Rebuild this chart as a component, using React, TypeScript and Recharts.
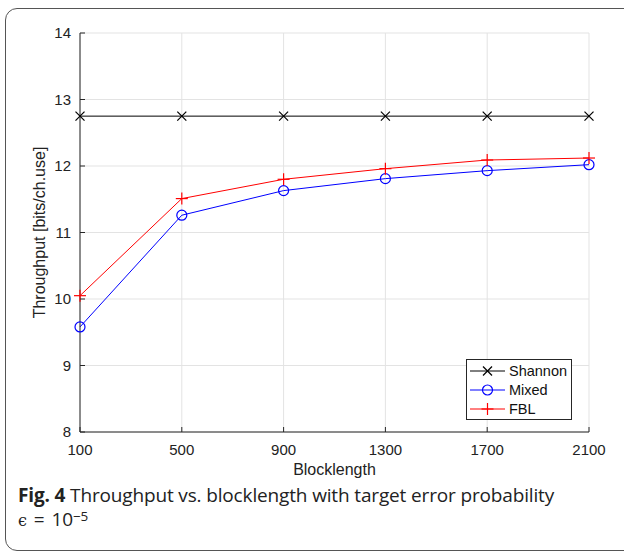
import { LineChart, Line, XAxis, YAxis, CartesianGrid } from "recharts";

const blocklengths = [100, 500, 900, 1300, 1700, 2100];
const shannon = [12.75, 12.75, 12.75, 12.75, 12.75, 12.75];
const mixed = [9.58, 11.26, 11.63, 11.81, 11.93, 12.02];
const fbl = [10.05, 11.51, 11.8, 11.96, 12.09, 12.12];
const xTicks = [100, 500, 900, 1300, 1700, 2100];
const yTicks = [8, 9, 10, 11, 12, 13, 14];

const data = blocklengths.map((n, i) => ({
    n,
    shannon: shannon[i],
    mixed: mixed[i],
    fbl: fbl[i],
}));

const axisFont = "'Liberation Sans', Arial, sans-serif";
const axisColor = "#262626";

const series = [
    { key: "shannon", name: "Shannon", color: "#000000", marker: "x" },
    { key: "mixed", name: "Mixed", color: "#0000ff", marker: "o" },
    { key: "fbl", name: "FBL", color: "#ff0000", marker: "+" },
];

function Marker({ type, cx, cy, color }: { type: string; cx: number; cy: number; color: string }) {
    if (type === "o") {
        return <circle cx={cx} cy={cy} r={5} fill="none" stroke={color} strokeWidth={1.2} />;
    }
    if (type === "+") {
        return (
            <g stroke={color} strokeWidth={1.2}>
                <line x1={cx - 6} x2={cx + 6} y1={cy} y2={cy} />
                <line x1={cx} x2={cx} y1={cy - 6} y2={cy + 6} />
            </g>
        );
    }
    return (
        <g stroke={color} strokeWidth={1.2}>
            <line x1={cx - 4.5} x2={cx + 4.5} y1={cy - 4.5} y2={cy + 4.5} />
            <line x1={cx - 4.5} x2={cx + 4.5} y1={cy + 4.5} y2={cy - 4.5} />
        </g>
    );
}

function BottomTick({ x, y, payload }: any) {
    return (
        <g>
            <line x1={x} x2={x} y1={y} y2={y - 5} stroke={axisColor} />
            <text x={x} y={y + 23} textAnchor="middle" fontSize={15} fill="#222" fontFamily={axisFont}>
                {payload.value}
            </text>
        </g>
    );
}

function TopTick({ x, y }: any) {
    return <line x1={x} x2={x} y1={y} y2={y + 5} stroke={axisColor} />;
}

function LeftTick({ x, y, payload }: any) {
    return (
        <g>
            <line x1={x} x2={x + 5} y1={y} y2={y} stroke={axisColor} />
            <text x={x - 9} y={y + 5} textAnchor="end" fontSize={15} fill="#222" fontFamily={axisFont}>
                {payload.value}
            </text>
        </g>
    );
}

function RightTick({ x, y }: any) {
    return <line x1={x} x2={x - 5} y1={y} y2={y} stroke={axisColor} />;
}

function LegendBox() {
    return (
        <div
            style={{
                position: "absolute",
                left: 466,
                top: 359,
                width: 104,
                height: 57,
                border: "1px solid #262626",
                background: "#fff",
                fontFamily: axisFont,
                fontSize: 14.5,
                color: "#111",
                paddingTop: 2,
                boxSizing: "content-box",
            }}
        >
            {series.map((s) => (
                <div key={s.key} style={{ display: "flex", alignItems: "center", height: 18.7 }}>
                    <svg width={42} height={18} style={{ flex: "none" }}>
                        <line x1={3} x2={38} y1={9} y2={9} stroke={s.color} strokeWidth={1} />
                        <Marker type={s.marker} cx={20.5} cy={9} color={s.color} />
                    </svg>
                    <span>{s.name}</span>
                </div>
            ))}
        </div>
    );
}

export default function App() {
    return (
        <div
            style={{
                position: "absolute",
                left: 0,
                top: 0,
                width: 624,
                height: 553,
                overflow: "hidden",
                background: "#fff",
            }}
        >
            <div
                style={{
                    position: "absolute",
                    left: 5,
                    top: 8,
                    width: 700,
                    height: 541,
                    border: "1.5px solid #555",
                    borderRadius: 12,
                }}
            />
            <div style={{ position: "absolute", left: 0, top: 0 }}>
                <LineChart width={624} height={480} data={data} margin={{ top: 33, right: 35, left: 0, bottom: 0 }}>
                    <CartesianGrid stroke="#e3e3e3" strokeWidth={1} />
                    <XAxis
                        dataKey="n"
                        type="number"
                        domain={[100, 2100]}
                        ticks={xTicks}
                        interval={0}
                        height={48}
                        tickSize={0}
                        tickMargin={0}
                        tick={<BottomTick />}
                        axisLine={{ stroke: axisColor }}
                        label={{
                            value: "Blocklength",
                            position: "insideBottom",
                            offset: 5,
                            style: { fontFamily: axisFont, fontSize: 16, fill: "#222" },
                        }}
                    />
                    <XAxis
                        xAxisId="top"
                        orientation="top"
                        dataKey="n"
                        type="number"
                        domain={[100, 2100]}
                        ticks={xTicks}
                        interval={0}
                        height={0}
                        tickSize={0}
                        tickMargin={0}
                        tick={<TopTick />}
                        axisLine={{ stroke: axisColor }}
                    />
                    <YAxis
                        type="number"
                        domain={[8, 14]}
                        ticks={yTicks}
                        interval={0}
                        width={80}
                        tickSize={0}
                        tickMargin={0}
                        tick={<LeftTick />}
                        axisLine={{ stroke: axisColor }}
                        label={{
                            value: "Throughput [bits/ch.use]",
                            angle: -90,
                            position: "insideLeft",
                            offset: 39,
                            style: { textAnchor: "middle", fontFamily: axisFont, fontSize: 16, fill: "#222" },
                        }}
                    />
                    <YAxis
                        yAxisId="right"
                        orientation="right"
                        type="number"
                        domain={[8, 14]}
                        ticks={yTicks}
                        interval={0}
                        width={0}
                        tickSize={0}
                        tickMargin={0}
                        tick={<RightTick />}
                        axisLine={{ stroke: axisColor }}
                    />
                    {series.map((s) => (
                        <Line
                            key={s.key}
                            dataKey={s.key}
                            name={s.name}
                            stroke={s.color}
                            strokeWidth={1}
                            type="linear"
                            isAnimationActive={false}
                            dot={(p: any) => (
                                <Marker key={`${s.key}-${p.index}`} type={s.marker} cx={p.cx} cy={p.cy} color={s.color} />
                            )}
                        />
                    ))}
                </LineChart>
            </div>
            <LegendBox />
            {/* caption */}
            <div
                style={{
                    position: "absolute",
                    left: 18,
                    top: 484,
                    fontFamily: "'Open Sans', 'Noto Sans', sans-serif",
                    fontSize: 19,
                    lineHeight: "23px",
                    letterSpacing: "-0.15px",
                    color: "#222",
                    whiteSpace: "nowrap",
                }}
            >
                <div>
                    <b>Fig. 4</b> Throughput vs. blocklength with target error probability
                </div>
                <div style={{ marginTop: 1 }}>
                    <span style={{ fontFamily: "'DejaVu Serif', serif", fontSize: 16 }}>ϵ</span>
                    <span style={{ margin: "0 7px" }}>=</span>
                    10
                    <span style={{ fontSize: 13.5, position: "relative", top: -5 }}>−5</span>
                </div>
            </div>
        </div>
    );
}
